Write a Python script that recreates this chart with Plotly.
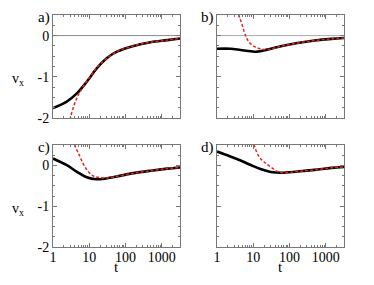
import plotly.graph_objects as go

# page has an 8px body margin: figure is 358x269, placed at (8, 8) in the 374x285 window
OFF = 8
W, H = 374 - 2 * OFF, 285 - 2 * OFF

# time grid (t values)
t_grid = [1, 2.34, 4.47, 8.51, 15.8, 30.2, 57.5, 166, 490, 1413, 3162]

# panel a
a_black_t = t_grid
a_black_v = [-1.76, -1.61, -1.41, -1.12, -0.80, -0.55, -0.39, -0.25, -0.16, -0.11, -0.07]
a_red_t = [2.5, 3.0, 4.47, 6.8, 10.5, 15.8, 24.5, 57.5, 166, 490, 1413, 3162]
a_red_v = [-2.4, -2.0, -1.53, -1.24, -1.0, -0.79, -0.62, -0.39, -0.25, -0.16, -0.11, -0.07]

# panel b
b_black_t = [1, 2.34, 4.47, 8.51, 12.9, 24.5, 57.5, 166, 490, 1413, 3162]
b_black_v = [-0.32, -0.32, -0.35, -0.38, -0.39, -0.34, -0.26, -0.18, -0.12, -0.08, -0.06]
b_red_t = [3.55, 4.0, 4.9, 6.0, 7.4, 10.5, 15.8, 24.5, 57.5, 166, 490, 1413, 3162]
b_red_v = [0.75, 0.5, 0.27, 0.02, -0.14, -0.26, -0.32, -0.34, -0.26, -0.18, -0.12, -0.08, -0.06]

# panel c
c_black_t = [1, 2.34, 4.47, 8.51, 15.8, 24.5, 57.5, 166, 490, 1413, 3162]
c_black_v = [0.17, 0.01, -0.15, -0.29, -0.34, -0.33, -0.27, -0.19, -0.13, -0.08, -0.05]
c_red_t = [3.55, 4.0, 5.5, 6.8, 9.3, 12.9, 20.0, 30.2, 57.5, 166, 490, 1413, 3162]
c_red_v = [0.75, 0.5, 0.22, 0.04, -0.15, -0.26, -0.30, -0.31, -0.27, -0.19, -0.13, -0.08, -0.05]

# panel d
d_black_t = t_grid
d_black_v = [0.34, 0.22, 0.12, 0.01, -0.09, -0.16, -0.18, -0.15, -0.11, -0.06, -0.04]
d_red_t = [8.9, 10.5, 14.5, 19.5, 30.2, 46.8, 70.8, 166, 490, 1413, 3162]
d_red_v = [0.75, 0.5, 0.21, 0.09, -0.04, -0.15, -0.18, -0.15, -0.11, -0.06, -0.04]

panel_labels = ["a)", "b)", "c)", "d)"]
x_ticks = [1, 10, 100, 1000]
x_tick_text = ["1", "10", "100", "1000"]
x_minor = [2, 3, 4, 5, 6, 7, 8, 9, 20, 30, 40, 50, 60, 70, 80, 90,
           200, 300, 400, 500, 600, 700, 800, 900, 2000, 3000]
y_ticks = [0, -1, -2]
y_tick_text = ["0", "-1", "-2"]
y_minor = [0.25, -0.25, -0.5, -0.75, -1.25, -1.5, -1.75]

FONT = "Liberation Serif, Times New Roman, serif"
AX = "#777777"

def px_x(p):
    return (p - OFF) / W

def px_y(p):
    return 1 - (p - OFF) / H

# panel boxes in window pixels: (left, right, top, bottom)
boxes = [(53, 180, 15, 118), (217, 344, 15, 118), (53, 180, 145, 247), (217, 344, 145, 247)]

fig = go.Figure()
data = [
    (a_black_t, a_black_v, a_red_t, a_red_v),
    (b_black_t, b_black_v, b_red_t, b_red_v),
    (c_black_t, c_black_v, c_red_t, c_red_v),
    (d_black_t, d_black_v, d_red_t, d_red_v),
]

layout = dict(
    template="none",
    width=W, height=H, margin=dict(l=0, r=0, t=0, b=0, autoexpand=False),
    paper_bgcolor="white", plot_bgcolor="white", showlegend=False,
    font=dict(family=FONT, size=13, color="black"),
)
shapes = []
annotations = []
for i, (bt, bv, rt, rv) in enumerate(data):
    n = "" if i == 0 else str(i + 1)
    xa, ya = "x" + n, "y" + n
    fig.add_trace(go.Scatter(x=bt, y=bv, mode="lines", xaxis=xa, yaxis=ya,
                             line=dict(color="black", width=2.6, shape="spline")))
    fig.add_trace(go.Scatter(x=rt, y=rv, mode="lines", xaxis=xa, yaxis=ya,
                             line=dict(color="#e8231c", width=1.5, dash="3px,2px", shape="spline")))
    l, r, t, b = boxes[i]
    show_x = i >= 2
    show_y = i % 2 == 0
    layout["xaxis" + n] = dict(
        type="log", range=[0, 3.5], domain=[px_x(l), px_x(r)], anchor=ya, automargin=False,
        showline=True, linecolor=AX, linewidth=1, mirror="ticks",
        ticks="inside", ticklen=4, tickcolor=AX, showgrid=False, zeroline=False,
        tickmode="array", tickvals=x_ticks, ticktext=x_tick_text, showticklabels=show_x,
        ticklabelstandoff=-3,
        tickfont=dict(family=FONT, size=14, color="black"),
        minor=dict(ticks="inside", ticklen=2, tickcolor=AX, tickmode="array",
                   tickvals=x_minor, showgrid=False),
    )
    layout["yaxis" + n] = dict(
        range=[-2, 0.5], domain=[px_y(b), px_y(t)], anchor=xa, automargin=False,
        showline=True, linecolor=AX, linewidth=1, mirror="ticks",
        ticks="inside", ticklen=4, tickcolor=AX, showgrid=False, zeroline=False,
        tickmode="array", tickvals=y_ticks, ticktext=y_tick_text, showticklabels=show_y,
        tickfont=dict(family=FONT, size=14, color="black"),
        minor=dict(ticks="inside", ticklen=2, tickcolor=AX, tickmode="array",
                   tickvals=y_minor, showgrid=False),
    )
    if i < 2:
        shapes.append(dict(type="line", xref=xa + " domain", yref=ya, x0=0, x1=1, y0=0, y1=0,
                           line=dict(color="#888888" if i == 0 else "#aaaaaa", width=1), layer="below"))
    annotations.append(dict(text=panel_labels[i], xref="paper", yref="paper",
                            x=px_x(l - 1), y=px_y(t + 2), xanchor="right", yanchor="middle",
                            showarrow=False, font=dict(family=FONT, size=15)))
    if show_y:
        annotations.append(dict(text="v<sub>x</sub>", xref="paper", yref="paper",
                                x=px_x(18), y=px_y(t + 64), xanchor="center", yanchor="middle",
                                showarrow=False, font=dict(family=FONT, size=14)))
    if show_x:
        annotations.append(dict(text="t", xref="paper", yref="paper",
                                x=px_x((l + r) / 2), y=0, xanchor="center", yanchor="bottom",
                                showarrow=False, font=dict(family=FONT, size=15)))

layout["shapes"] = shapes
layout["annotations"] = annotations
fig.update_layout(**layout)
fig.write_html("out.html")
